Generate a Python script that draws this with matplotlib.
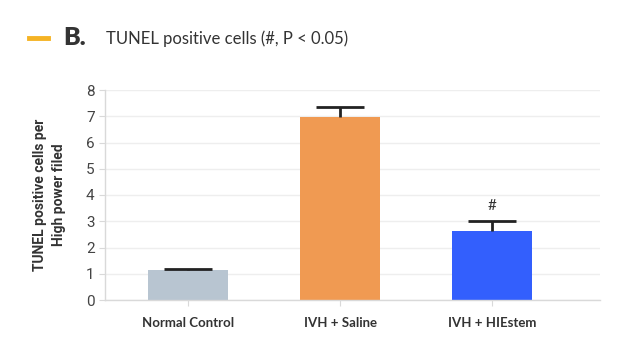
import matplotlib

matplotlib.use("Agg")
import matplotlib.pyplot as plt


GROUPS = ["Normal Control", "IVH + Saline", "IVH + HIEstem"]
MEANS = [1.13, 6.97, 2.63]
ERRORS = [0.07, 0.39, 0.38]
COLORS = ["#b8c5d1", "#f09a52", "#335ffd"]
Y_TICKS = [0, 1, 2, 3, 4, 5, 6, 7, 8]


def main():
    fig = plt.figure(figsize=(6.3, 3.5), dpi=100)
    ax = fig.add_axes([105 / 630, 1 - 300 / 350, 495 / 630, 210 / 350])

    x = list(range(len(GROUPS)))
    ax.bar(x, MEANS, width=0.53, color=COLORS, zorder=2)

    # upper-only error bars: stem + cap
    tops = [m + e for m, e in zip(MEANS, ERRORS)]
    ax.vlines(x, MEANS, tops, color="#222222", linewidth=2, zorder=3)
    ax.hlines(tops, [i - 0.155 for i in x], [i + 0.155 for i in x],
              color="#222222", linewidth=2, zorder=3)

    # significance mark above the treated group
    ax.text(2, tops[2] + 0.32, "#", ha="center", va="bottom",
            fontsize=11, color="#333333", family="Lato")

    ax.set_xlim(-0.546, 2.71)
    ax.set_ylim(0, 8)
    ax.set_yticks(Y_TICKS)
    ax.set_xticks(x)
    ax.set_xticklabels(GROUPS, family="Lato", fontweight="bold", fontsize=9.5, color="#333333")
    for lbl in ax.get_yticklabels():
        lbl.set_family("Roboto")
        lbl.set_fontsize(11)
        lbl.set_color("#444444")

    ax.grid(axis="y", color="#eeeeee", linewidth=1, zorder=0)
    for side in ("top", "right"):
        ax.spines[side].set_visible(False)
    for side in ("left", "bottom"):
        ax.spines[side].set_color("#d9d9d9")
        ax.spines[side].set_linewidth(1)
    ax.tick_params(axis="both", color="#d9d9d9", length=4)
    ax.tick_params(axis="x", pad=8)

    ax.set_ylabel("TUNEL positive cells per\nHigh power filed", family="Roboto",
                  fontweight="bold", fontsize=10, color="#333333", labelpad=14,
                  linespacing=1.5)

    # header: small accent dash, panel letter, title
    fig.add_artist(plt.Line2D([29 / 630, 48 / 630], [1 - 38 / 350] * 2,
                              color="#f5b324", linewidth=3.5))
    fig.text(63 / 630, 1 - 38 / 350, "B.", family="Lato", fontweight="heavy",
             fontsize=18, color="#333333", va="center", ha="left")
    fig.text(106 / 630, 1 - 39 / 350, "TUNEL positive cells (#, P < 0.05)", family="Lato",
             fontsize=12, color="#333333", va="center", ha="left")

    fig.savefig("out.png", dpi=100)


if __name__ == "__main__":
    main()
